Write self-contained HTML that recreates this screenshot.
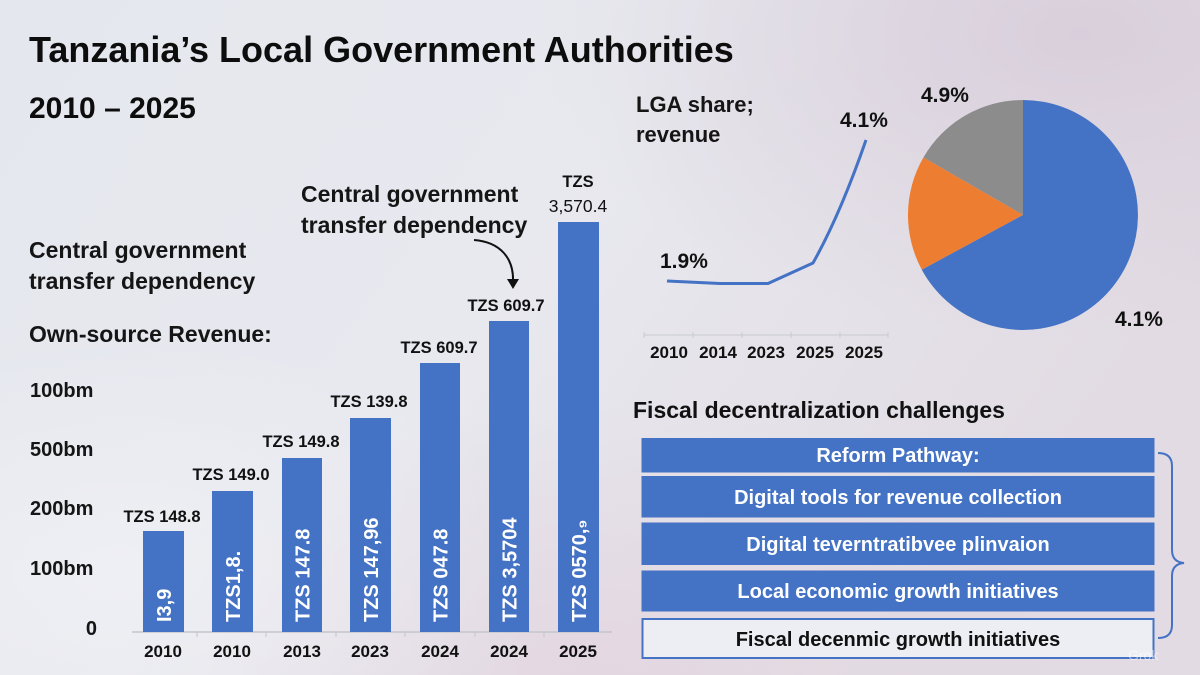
<!DOCTYPE html>
<html><head><meta charset="utf-8"><style>
html,body{margin:0;padding:0;}
body{width:1200px;height:675px;overflow:hidden;font-family:"Liberation Sans",sans-serif;}
svg{display:block;}
text{font-family:"Liberation Sans",sans-serif;}
</style></head><body>
<svg width="1200" height="675" viewBox="0 0 1200 675" xmlns="http://www.w3.org/2000/svg">
<defs>
<linearGradient id="bg" x1="0" y1="0" x2="1" y2="0.4">
<stop offset="0" stop-color="#e4e7ee"/>
<stop offset="0.5" stop-color="#e8e9ef"/>
<stop offset="1" stop-color="#e2dbe3"/>
</linearGradient>
<radialGradient id="pk1" cx="0.9" cy="0.05" r="0.45">
<stop offset="0" stop-color="#d8cedb" stop-opacity="0.95"/>
<stop offset="1" stop-color="#d9cfdb" stop-opacity="0"/>
</radialGradient>
<radialGradient id="pk2" cx="0.5" cy="1" r="0.4">
<stop offset="0" stop-color="#e3d6e0" stop-opacity="0.9"/>
<stop offset="1" stop-color="#e3d6e0" stop-opacity="0"/>
</radialGradient>
<radialGradient id="wh" cx="0.1" cy="0.85" r="0.35">
<stop offset="0" stop-color="#f0f1f5" stop-opacity="0.8"/>
<stop offset="1" stop-color="#f0f1f5" stop-opacity="0"/>
</radialGradient>
</defs>
<rect width="1200" height="675" fill="url(#bg)"/>
<rect width="1200" height="675" fill="url(#pk1)"/>
<rect width="1200" height="675" fill="url(#pk2)"/>
<rect width="1200" height="675" fill="url(#wh)"/>

<!-- Title -->
<text x="29" y="62" font-size="36" font-weight="bold" fill="#0d0d0d">Tanzania’s Local Government Authorities</text>
<text x="29" y="118" font-size="30" font-weight="bold" fill="#0d0d0d">2010 – 2025</text>

<!-- Left labels -->
<g font-size="23" font-weight="bold" fill="#151515">
<text x="29" y="258">Central government</text>
<text x="29" y="289">transfer dependency</text>
<text x="29" y="342">Own-source Revenue:</text>
<text x="301" y="202">Central government</text>
<text x="301" y="233">transfer dependency</text>
</g>

<!-- arrow -->
<path d="M474,240 C500,242 514,258 513,282" fill="none" stroke="#111" stroke-width="2"/>
<path d="M507,279 L513,289 L519,279 Z" fill="#111"/>

<!-- y labels -->
<g font-size="20" font-weight="bold" fill="#151515">
<text x="30" y="397">100bm</text>
<text x="30" y="456">500bm</text>
<text x="30" y="515">200bm</text>
<text x="30" y="575">100bm</text>
<text x="97" y="635" text-anchor="end">0</text>
</g>

<!-- axis -->
<line x1="132" y1="632" x2="612" y2="632" stroke="#c4c6cc" stroke-width="1.5"/>
<g stroke="#c4c6cc" stroke-width="1">
<line x1="197" y1="632" x2="197" y2="637"/><line x1="266" y1="632" x2="266" y2="637"/><line x1="336" y1="632" x2="336" y2="637"/><line x1="405" y1="632" x2="405" y2="637"/><line x1="475" y1="632" x2="475" y2="637"/><line x1="544" y1="632" x2="544" y2="637"/>
</g>

<!-- bars -->
<g fill="#4472c4">
<rect x="143" y="531" width="41" height="101"/>
<rect x="212" y="491" width="41" height="141"/>
<rect x="282" y="458" width="40" height="174"/>
<rect x="350" y="418" width="41" height="214"/>
<rect x="420" y="363" width="40" height="269"/>
<rect x="489" y="321" width="40" height="311"/>
<rect x="558" y="222" width="41" height="410"/>
</g>

<!-- value labels -->
<g font-size="16.5" font-weight="bold" fill="#111" text-anchor="middle">
<text x="162" y="522">TZS 148.8</text>
<text x="231" y="480">TZS 149.0</text>
<text x="301" y="447">TZS 149.8</text>
<text x="369" y="407">TZS 139.8</text>
<text x="439" y="353">TZS 609.7</text>
<text x="506" y="311">TZS 609.7</text>
<text x="578" y="187">TZS</text>
<text x="578" y="212" font-weight="normal" font-size="17.5">3,570.4</text>
</g>

<!-- rotated bar texts -->
<g font-size="20" font-weight="bold" fill="#ffffff">
<text transform="translate(171,622) rotate(-90)">I3,9</text>
<text transform="translate(240,622) rotate(-90)">TZS1,8.</text>
<text transform="translate(309.5,622) rotate(-90)">TZS 147.8</text>
<text transform="translate(378,622) rotate(-90)">TZS 147,96</text>
<text transform="translate(447.5,622) rotate(-90)">TZS 047.8</text>
<text transform="translate(516.5,622) rotate(-90)">TZS 3,5704</text>
<text transform="translate(586,622) rotate(-90)">TZS 0570,₉</text>
</g>

<!-- year labels -->
<g font-size="17" font-weight="bold" fill="#111" text-anchor="middle">
<text x="163" y="657">2010</text>
<text x="232" y="657">2010</text>
<text x="302" y="657">2013</text>
<text x="370" y="657">2023</text>
<text x="440" y="657">2024</text>
<text x="509" y="657">2024</text>
<text x="578" y="657">2025</text>
</g>

<!-- line chart -->
<text x="636" y="112" font-size="22" font-weight="bold" fill="#151515">LGA share;</text>
<text x="636" y="142" font-size="22" font-weight="bold" fill="#151515">revenue</text>
<text x="840" y="127" font-size="21" font-weight="bold" fill="#111">4.1%</text>
<text x="660" y="268" font-size="21" font-weight="bold" fill="#111">1.9%</text>
<path d="M667,281 L720,283.5 L768,283.5 L813,263 Q840,215 866,140" fill="none" stroke="#4472c4" stroke-width="3" stroke-linejoin="round"/>
<line x1="644" y1="335" x2="888" y2="335" stroke="#c8cad0" stroke-width="1"/>
<g stroke="#c8cad0" stroke-width="1">
<line x1="644" y1="332" x2="644" y2="338"/><line x1="693" y1="332" x2="693" y2="338"/><line x1="742" y1="332" x2="742" y2="338"/><line x1="791" y1="332" x2="791" y2="338"/><line x1="840" y1="332" x2="840" y2="338"/><line x1="888" y1="332" x2="888" y2="338"/>
</g>
<g font-size="17" font-weight="bold" fill="#111" text-anchor="middle">
<text x="669" y="358">2010</text>
<text x="718" y="358">2014</text>
<text x="766" y="358">2023</text>
<text x="815" y="358">2025</text>
<text x="864" y="358">2025</text>
</g>

<!-- pie -->
<path d="M1023,215 L1023,100 A115,115 0 0 0 923.4,157.5 Z" fill="#8c8c8c"/>
<path d="M1023,215 L923.4,157.5 A115,115 0 0 0 921.8,269.7 Z" fill="#ed7d31"/>
<path d="M1023,215 L921.8,269.7 A115,115 0 1 0 1023,100 Z" fill="#4472c4"/>
<text x="921" y="102" font-size="21" font-weight="bold" fill="#111">4.9%</text>
<text x="1115" y="326" font-size="21" font-weight="bold" fill="#111">4.1%</text>

<!-- fiscal section -->
<text x="633" y="418" font-size="23" font-weight="bold" fill="#111">Fiscal decentralization challenges</text>
<g fill="#4472c4">
<rect x="641.5" y="438" width="513" height="34.5"/>
<rect x="641.5" y="476" width="513" height="41.5"/>
<rect x="641.5" y="522.5" width="513" height="42.5"/>
<rect x="641.5" y="570.5" width="513" height="41"/>
</g>
<rect x="642.5" y="619" width="511" height="39" fill="#eceef4" stroke="#4472c4" stroke-width="2"/>
<g font-size="20" font-weight="bold" text-anchor="middle" fill="#ffffff">
<text x="898" y="462">Reform Pathway:</text>
<text x="898" y="504">Digital tools for revenue collection</text>
<text x="898" y="551">Digital teverntratibvee plinvaion</text>
<text x="898" y="598">Local economic growth initiatives</text>
<text x="898" y="646" fill="#111">Fiscal decenmic growth initiatives</text>
</g>
<!-- brace -->
<path d="M1158,453 Q1172,453 1172,466 L1172,550 Q1172,562 1184,563 Q1172,564 1172,576 L1172,625 Q1172,638 1158,638" fill="none" stroke="#4472c4" stroke-width="2"/>
<text x="1128" y="660" font-size="14" fill="#ffffff" fill-opacity="0.5">Grok</text>
</svg>
</body></html>
